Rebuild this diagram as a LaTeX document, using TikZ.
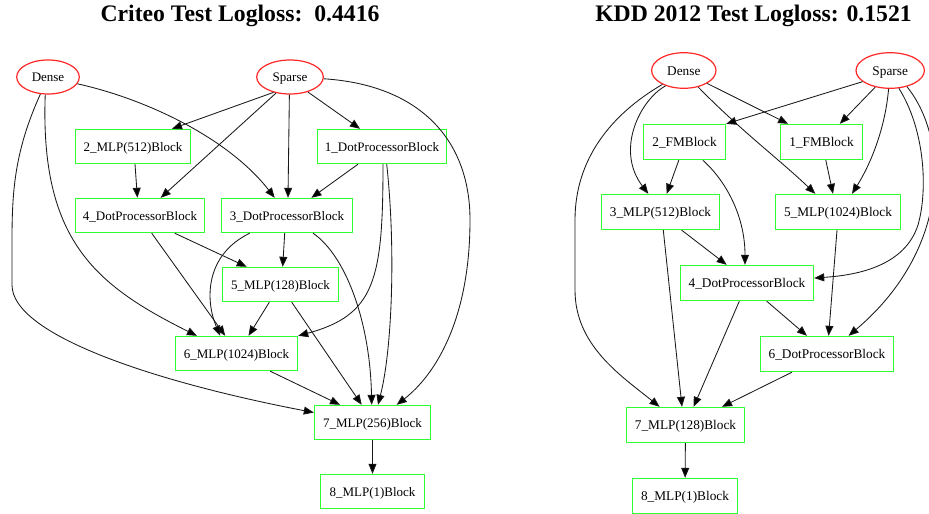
\documentclass[tikz,border=0pt]{standalone}
\usepackage{fontspec}
\setmainfont{Liberation Serif}
\usetikzlibrary{arrows.meta,shapes.geometric}
\definecolor{inputred}{RGB}{255,40,40}
\definecolor{blockgreen}{RGB}{50,255,50}
\begin{document}
\begin{tikzpicture}[x=1pt,y=-1pt,
  title/.style={font=\fontsize{23.7}{26}\selectfont\bfseries, anchor=base, inner sep=0pt},
  input/.style={ellipse, draw=inputred, line width=1.2pt, inner sep=0pt,
    text height=10pt, text depth=1pt},
  block/.style={rectangle, draw=blockgreen, line width=1.4pt, inner sep=0pt,
    text height=10pt, text depth=1pt},
  lgraph/.style={font=\fontsize{13}{15}\selectfont, minimum height=34pt},
  rgraph/.style={font=\fontsize{13.3}{15}\selectfont, minimum height=35pt},
  edge/.style={line width=0.85pt, draw=black!90,
    -{Triangle[length=10pt,width=8pt,fill=black]}}
]
\useasboundingbox (0,0) rectangle (929,514);

% ---------- titles ----------
\node[title] (t1) at (240,21.7) {Criteo Test Logloss:\ \ 0.4416};
\node[title] (t2) at (753.5,21.7) {KDD 2012 Test Logloss: 0.1521};

% ---------- Criteo graph ----------
\begin{scope}[every node/.append style={lgraph}]
\node[input, minimum width=62.6pt, minimum height=34pt] (dL) at (48,77) {Dense};
\node[input, minimum width=66.6pt, minimum height=34pt] (sL) at (290,77) {Sparse};
\node[block, minimum width=115pt] (a2) at (133,146.5) {2\_MLP(512)Block};
\node[block, minimum width=129pt] (a1) at (382,146.5) {1\_DotProcessorBlock};
\node[block, minimum width=129pt] (a4) at (140,215.5) {4\_DotProcessorBlock};
\node[block, minimum width=131pt] (a3) at (287,215.5) {3\_DotProcessorBlock};
\node[block, minimum width=116pt] (a5) at (280.5,284.5) {5\_MLP(128)Block};
\node[block, minimum width=122pt] (a6) at (236.5,353.5) {6\_MLP(1024)Block};
\node[block, minimum width=116pt] (a7) at (372.5,422.5) {7\_MLP(256)Block};
\node[block, minimum width=104pt] (a8) at (372.5,491.5) {8\_MLP(1)Block};
\end{scope}

\draw[edge] (sL.-137) -- ([xshift=39pt]a2.north);
\draw[edge] (sL.-131) -- ([xshift=20.7pt]a4.north);
\draw[edge] (sL.-92) -- ([xshift=1pt]a3.north);
\draw[edge] (sL.-40) -- ([xshift=-22pt]a1.north);
\draw[edge] (sL.-3) .. controls (420,85) and (470,140) .. (470,220)
  .. controls (470,320) and (435,375) .. ([xshift=24.2pt]a7.north);
\draw[edge] (dL.-13) .. controls (150,100) and (230,140) .. ([xshift=-12.3pt]a3.north);
\draw[edge] (dL.-99) .. controls (40,240) and (95,285) .. ([xshift=-39.6pt]a6.north);
\draw[edge] (dL.-114) .. controls (15,150) and (12,190) .. (12,240) -- (12,285)
  .. controls (12,335) and (155,382) .. ([yshift=10pt]a7.west);
\draw[edge] ([xshift=2pt]a2.south) -- ([xshift=-2.6pt]a4.north);
\draw[edge] ([xshift=-24pt]a1.south) -- ([xshift=24.4pt]a3.north);
\draw[edge] ([xshift=1pt]a1.south) .. controls (383,280) and (375,315) .. (a6.north east);
\draw[edge] ([xshift=4.7pt]a1.south) .. controls (396,250) and (392,350) .. ([xshift=5.5pt]a7.north);
\draw[edge] ([xshift=34.7pt]a4.south) -- ([xshift=-33.8pt]a5.north);
\draw[edge] ([xshift=11.7pt]a4.south) -- ([xshift=-11.3pt]a6.north);
\draw[edge] ([xshift=-2.3pt]a3.south) -- ([xshift=2.2pt]a5.north);
\draw[edge] ([xshift=-37.3pt]a3.south) .. controls (205,255) and (205,300) .. ([xshift=-16.3pt]a6.north);
\draw[edge] ([xshift=26pt]a3.south) .. controls (345,255) and (370,320) .. ([xshift=-0.8pt]a7.north);
\draw[edge] ([xshift=-11.2pt]a5.south) -- ([xshift=12pt]a6.north);
\draw[edge] ([xshift=11.2pt]a5.south) -- ([xshift=-10.8pt]a7.north);
\draw[edge] ([xshift=33.7pt]a6.south) -- ([xshift=-32.5pt]a7.north);
\draw[edge] (a7) -- (a8);

% ---------- KDD 2012 graph ----------
\begin{scope}[every node/.append style={rgraph}]
\node[input, minimum width=64.4pt, minimum height=35.6pt] (dR) at (683.8,70.5) {Dense};
\node[input, minimum width=68.4pt, minimum height=35.6pt] (sR) at (890.2,70.5) {Sparse};
\node[block, minimum width=82pt] (b2) at (684.5,142) {2\_FMBlock};
\node[block, minimum width=82pt] (b1) at (821.5,142) {1\_FMBlock};
\node[block, minimum width=118pt] (b3) at (660.5,212) {3\_MLP(512)Block};
\node[block, minimum width=125pt] (b5) at (838,212) {5\_MLP(1024)Block};
\node[block, minimum width=133pt] (b4) at (747,283) {4\_DotProcessorBlock};
\node[block, minimum width=133pt] (b6) at (827,354) {6\_DotProcessorBlock};
\node[block, minimum width=118pt] (b7) at (685.5,425) {7\_MLP(128)Block};
\node[block, minimum width=105pt] (b8) at (685,496) {8\_MLP(1)Block};
\end{scope}

\draw[edge] (dR.-147) .. controls (610,115) and (575,160) .. (575,220) -- (575,290)
  .. controls (575,345) and (620,375) .. ([xshift=-25.9pt]b7.north);
\draw[edge] (dR.-140) .. controls (640,100) and (615,150) .. ([xshift=-12.2pt]b3.north);
\draw[edge] (dR.-49) .. controls (740,130) and (780,160) .. ([xshift=-22.7pt]b5.north);
\draw[edge] (dR.-29) -- ([xshift=-33.4pt]b1.north);
\draw[edge] (sR.-158) -- (b2.north east);
\draw[edge] (sR.-132) -- ([xshift=18.3pt]b1.north);
\draw[edge] (sR.-95) .. controls (885,130) and (870,165) .. ([xshift=14pt]b5.north);
\draw[edge] (sR.-64) .. controls (925,130) and (928,190) .. (918,225)
  .. controls (905,265) and (860,275) .. ([yshift=5pt]b4.east);
\draw[edge] (sR.-44) .. controls (950,140) and (950,250) .. ([xshift=21.6pt]b6.north);
\draw[edge] ([xshift=-5.7pt]b2.south) -- ([xshift=6.2pt]b3.north);
\draw[edge] ([xshift=18.3pt]b2.south) .. controls (725,180) and (745,215) .. ([xshift=-2pt]b4.north);
\draw[edge] ([xshift=4.3pt]b1.south) -- ([xshift=-5pt]b5.north);
\draw[edge] ([xshift=21.2pt]b3.south) -- ([xshift=-20.3pt]b4.north);
\draw[edge] ([xshift=2.8pt]b3.south) -- ([xshift=-3.5pt]b7.north);
\draw[edge] ([xshift=-1pt]b5.south) -- ([xshift=1.6pt]b6.north);
\draw[edge] ([xshift=19.7pt]b4.south) -- ([xshift=-20pt]b6.north);
\draw[edge] ([xshift=-7.7pt]b4.south) -- ([xshift=8.1pt]b7.north);
\draw[edge] ([xshift=-35pt]b6.south) -- ([xshift=36.5pt]b7.north);
\draw[edge] (b7) -- (b8);
\end{tikzpicture}
\end{document}
